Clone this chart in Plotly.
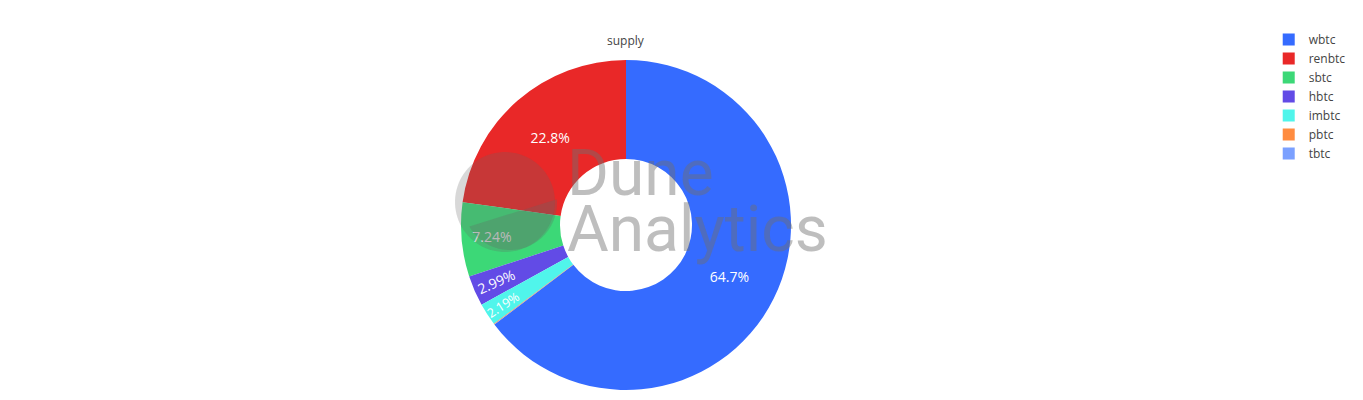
import numpy as np
import plotly.graph_objects as go

W, H = 1363, 400
OFF = 8   # page body margin, the figure is drawn 8px in from the corner
MARGIN = dict(l=0, r=127, t=52, b=18, pad=0)

# supply share per wrapped-btc token
tokens = ['wbtc', 'renbtc', 'sbtc', 'hbtc', 'imbtc', 'pbtc', 'tbtc']
supply = [64.7, 22.8, 7.24, 2.99, 2.19, 0.06, 0.02]
colors = ['#356BFF', '#E92828', '#3CD877', '#624BE6', '#50F5EB', '#FF8C40', '#7BA0FF']


def px2paper(x, y):
    """screenshot pixel -> paper coords"""
    pw = W - MARGIN['l'] - MARGIN['r']
    ph = H - MARGIN['t'] - MARGIN['b']
    return (x - OFF - MARGIN['l']) / pw, (H - MARGIN['b'] - (y - OFF)) / ph


def svg_path(pts):
    pts = [px2paper(x, y) for x, y in pts]
    return 'M ' + ' L '.join(f'{x:.5f},{y:.5f}' for x, y in pts) + ' Z'


# slivers too thin for a label get none
total = sum(supply)
textpos = ['inside' if v / total > 0.01 else 'none' for v in supply]

fig = go.Figure()
fig.add_trace(go.Pie(labels=tokens, values=supply, hole=0.4, sort=False,
                     direction='counterclockwise', rotation=0,
                     marker=dict(colors=colors),
                     textinfo='percent', textposition=textpos,
                     insidetextorientation='auto',
                     textfont=dict(color='white', size=14)))

# "supply" heading over the pie
sx, sy = px2paper(626, 30)
fig.add_annotation(text='supply', x=sx, y=sy, xref='paper', yref='paper',
                   showarrow=False, font=dict(size=12, color='#444'))

# watermark logo: light disc, darker part below a diagonal
cx, cy, r = 505, 202, 50
t = np.linspace(0, 2 * np.pi, 90)
disc = [(cx + r * np.cos(a), cy + r * np.sin(a)) for a in t]
fig.add_shape(type='path', xref='paper', yref='paper', path=svg_path(disc),
              fillcolor='rgba(100,100,100,0.25)', line_width=0, layer='above')

cx2, cy2, r2 = 510, 203, 47
ax, ay, bx, by = 463, 228, 557, 199
t2 = np.linspace(0, 2 * np.pi, 240, endpoint=False)
pts = np.c_[cx2 + r2 * np.cos(t2), cy2 + r2 * np.sin(t2)]
line_y = ay + (pts[:, 0] - ax) * (by - ay) / (bx - ax)
below = pts[:, 1] > line_y
start = np.argmax(below & ~np.roll(below, 1))
pts = np.roll(pts, -start, axis=0)
below = np.roll(below, -start)
lower = [tuple(p) for p in pts[below]]
fig.add_shape(type='path', xref='paper', yref='paper', path=svg_path(lower),
              fillcolor='rgba(100,100,100,0.27)', line_width=0, layer='above')

for txt, yy in [('Dune', 173), ('Analytics', 229)]:
    tx, ty = px2paper(565, yy)
    fig.add_annotation(text=txt, x=tx, y=ty, xref='paper', yref='paper',
                       xanchor='left', yanchor='middle', showarrow=False,
                       font=dict(family='Roboto', size=64, color='rgba(110,110,110,0.45)'))

fig.update_layout(width=W, height=H, margin=MARGIN,
                  paper_bgcolor='white', plot_bgcolor='white',
                  font=dict(family='Open Sans', size=12, color='#444'),
                  showlegend=True,
                  legend=dict(font=dict(size=12, color='#444'),
                              y=1.106, yanchor='top'))

fig.write_html('out.html')
